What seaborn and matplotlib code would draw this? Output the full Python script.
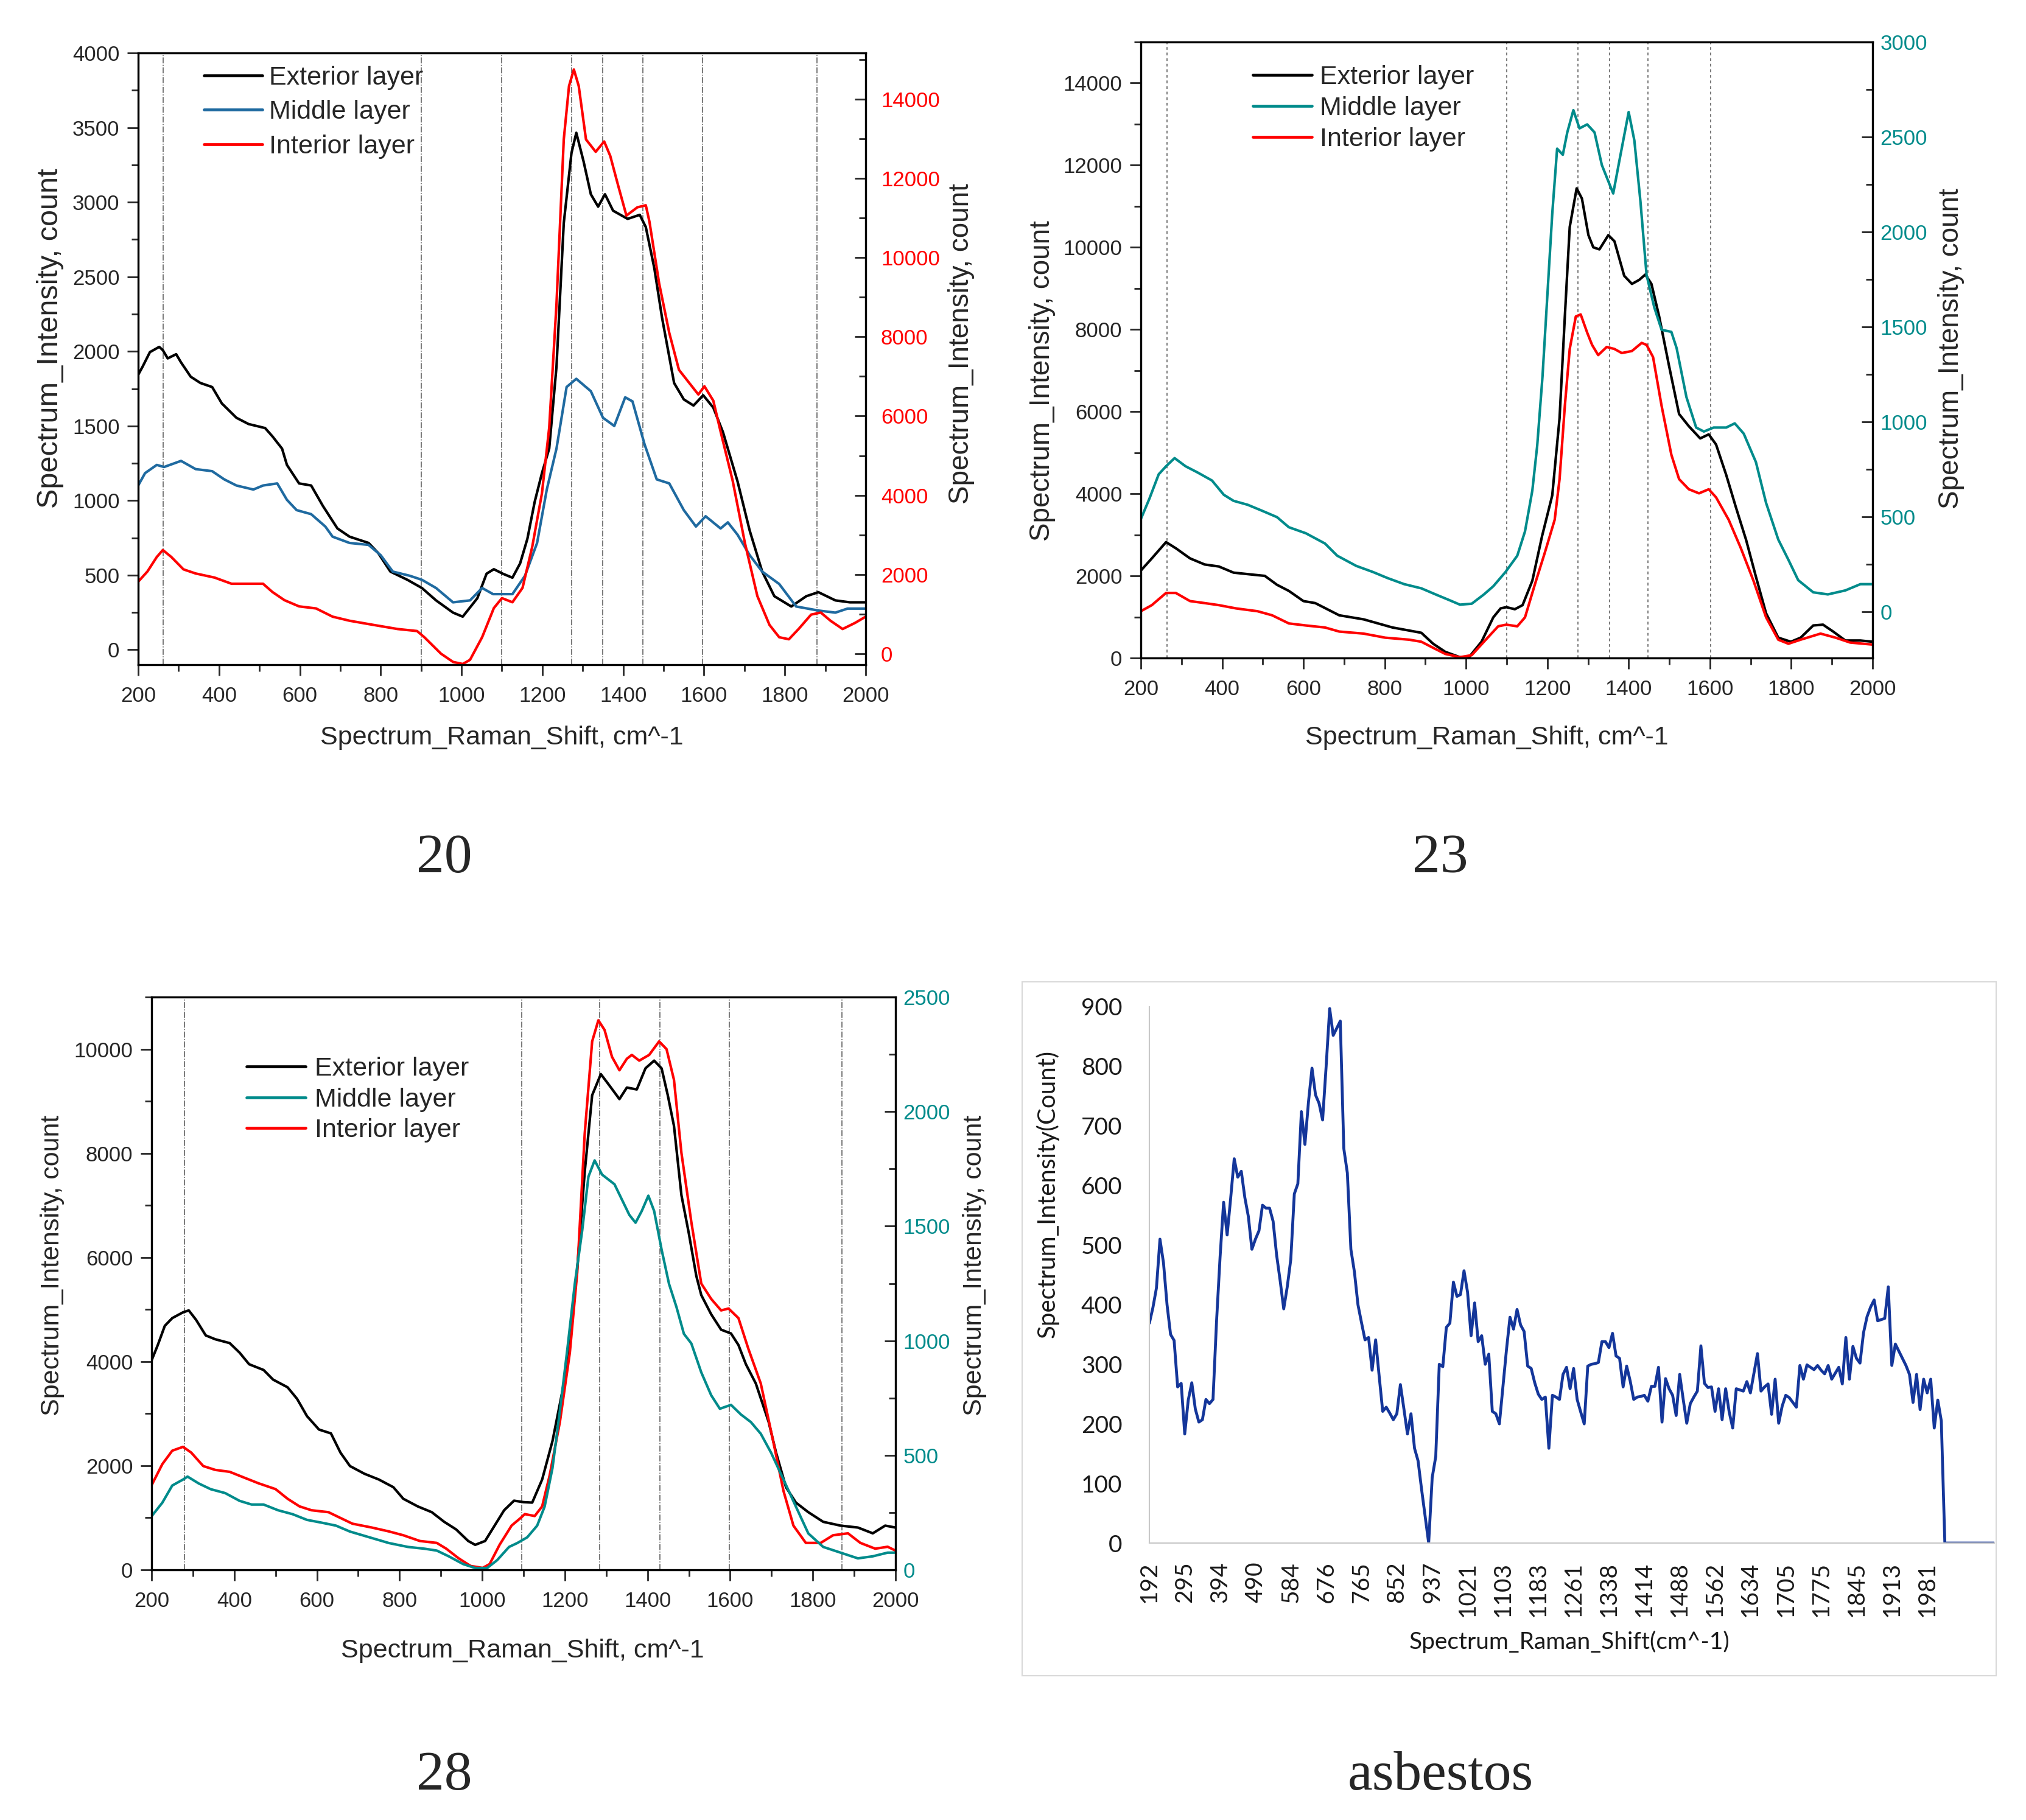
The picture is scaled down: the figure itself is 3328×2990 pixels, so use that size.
import numpy as np
import seaborn as sns
import matplotlib.pyplot as plt
from matplotlib.ticker import MultipleLocator
from matplotlib.patches import Rectangle
from matplotlib.lines import Line2D

# ---------------- panel 20 ----------------
p20_ext_x = [200, 211, 229, 252, 261, 273, 294, 306, 330, 354, 383, 407, 443, 473, 514, 532, 556, 568, 598, 628,
             657, 693, 723, 770, 794, 824, 866, 902, 937, 979, 1003, 1039, 1062, 1080, 1102, 1126, 1145, 1163, 1181, 1199,
             1217, 1235, 1253, 1272, 1284, 1302, 1320, 1338, 1355, 1375, 1411, 1441, 1456, 1477, 1496, 1526, 1550, 1574, 1598, 1623,
             1647, 1683, 1713, 1744, 1774, 1816, 1853, 1883, 1925, 1961, 2000]
p20_ext_y = [1843, 1898, 1995, 2030, 2008, 1953, 1981, 1926, 1830, 1788, 1761, 1651, 1555, 1513, 1486, 1431, 1348, 1239, 1115, 1101,
             964, 813, 758, 716, 648, 524, 469, 414, 331, 249, 222, 345, 510, 540, 510, 483, 579, 744, 991, 1184,
             1349, 1898, 2860, 3328, 3465, 3273, 3053, 2970, 3053, 2943, 2888, 2915, 2833, 2558, 2228, 1788, 1678, 1637, 1706, 1623,
             1458, 1128, 799, 524, 359, 290, 359, 386, 331, 318, 318]
p20_mid_x = [200, 217, 246, 264, 306, 342, 383, 413, 443, 485, 509, 544, 568, 592, 628, 663, 681, 723, 770, 800,
             830, 872, 902, 937, 979, 1021, 1051, 1078, 1126, 1157, 1187, 1211, 1235, 1260, 1284, 1320, 1350, 1378, 1405, 1423,
             1453, 1483, 1514, 1550, 1580, 1604, 1641, 1659, 1683, 1713, 1744, 1786, 1828, 1883, 1925, 1955, 2000]
p20_mid_y = [1101, 1184, 1239, 1225, 1266, 1211, 1197, 1142, 1101, 1074, 1101, 1115, 1005, 936, 909, 826, 758, 716, 703, 634,
             524, 496, 469, 414, 318, 331, 414, 373, 373, 496, 716, 1074, 1349, 1761, 1816, 1733, 1555, 1500, 1692, 1665,
             1376, 1142, 1115, 936, 826, 895, 813, 854, 771, 634, 524, 441, 290, 263, 249, 276, 276]
p20_int_x = [200, 223, 246, 261, 282, 312, 342, 389, 431, 473, 509, 532, 562, 598, 640, 681, 723, 782, 842, 890,
             908, 949, 979, 1003, 1021, 1051, 1080, 1100, 1126, 1151, 1175, 1199, 1217, 1235, 1253, 1266, 1278, 1290, 1308, 1332,
             1353, 1368, 1387, 1408, 1435, 1456, 1465, 1489, 1514, 1538, 1562, 1586, 1601, 1623, 1641, 1671, 1701, 1732, 1762, 1786,
             1810, 1834, 1865, 1889, 1913, 1943, 1974, 2000]
p20_int_y = [1816, 2076, 2440, 2616, 2440, 2128, 2024, 1920, 1764, 1764, 1764, 1557, 1349, 1193, 1141, 933, 830, 725, 621, 570,
             414, 0, -210, -262, -158, 414, 1150, 1401, 1297, 1661, 2699, 4050, 5712, 8830, 12986, 14336, 14752, 14336, 12986, 12674,
             12934, 12570, 11843, 11063, 11271, 11323, 10908, 9349, 8102, 7167, 6855, 6544, 6752, 6388, 5609, 4362, 2803, 1453, 725, 414,
             362, 621, 985, 1037, 830, 621, 777, 933]
p20_marks = [262, 900, 1100, 1272, 1350, 1448, 1597, 1880]

# ---------------- panel 23 ----------------
p23_ext_x = [200, 227, 262, 286, 321, 357, 392, 428, 475, 505, 535, 564, 600, 629, 688, 748, 819, 890, 919, 949,
             985, 1008, 1038, 1067, 1085, 1099, 1120, 1139, 1163, 1187, 1212, 1230, 1243, 1255, 1272, 1285, 1301, 1313, 1328, 1350,
             1365, 1389, 1408, 1426, 1441, 1456, 1475, 1499, 1524, 1548, 1576, 1597, 1615, 1640, 1664, 1689, 1713, 1738, 1768, 1799,
             1823, 1854, 1878, 1903, 1933, 1970, 2000]
p23_ext_y = [2129, 2426, 2822, 2673, 2426, 2277, 2228, 2079, 2030, 2000, 1782, 1634, 1386, 1337, 1040, 941, 743, 614, 347, 149,
             20, 30, 396, 990, 1208, 1238, 1188, 1287, 1881, 2970, 3960, 5842, 8317, 10495, 11436, 11188, 10297, 10000, 9950, 10297,
             10148, 9307, 9109, 9208, 9337, 9109, 8317, 7129, 5941, 5644, 5347, 5446, 5198, 4456, 3663, 2871, 1980, 1089, 495, 396,
             495, 792, 812, 644, 426, 426, 396]
p23_int_x = [200, 227, 262, 286, 321, 357, 392, 434, 487, 523, 564, 606, 653, 688, 748, 801, 860, 890, 919, 949,
             985, 1014, 1044, 1079, 1099, 1126, 1145, 1169, 1194, 1218, 1230, 1243, 1255, 1270, 1282, 1298, 1310, 1325, 1346, 1365,
             1383, 1408, 1432, 1444, 1460, 1481, 1505, 1524, 1548, 1573, 1597, 1615, 1646, 1676, 1707, 1738, 1768, 1793, 1823, 1872,
             1909, 1945, 2000]
p23_int_y = [1139, 1287, 1584, 1584, 1386, 1337, 1287, 1208, 1139, 1040, 842, 792, 743, 644, 594, 495, 446, 396, 248, 99,
             20, 69, 396, 772, 812, 772, 990, 1782, 2574, 3366, 4356, 6139, 7525, 8317, 8366, 7921, 7624, 7376, 7574, 7525,
             7426, 7475, 7673, 7624, 7327, 6139, 4950, 4356, 4109, 4010, 4109, 3911, 3366, 2673, 1881, 990, 446, 347, 446, 594,
             495, 376, 327]
p23_mid_x = [200, 221, 244, 262, 283, 310, 339, 375, 404, 428, 463, 499, 535, 564, 606, 653, 683, 730, 771, 807,
             848, 890, 925, 961, 985, 1014, 1044, 1067, 1097, 1126, 1145, 1163, 1175, 1188, 1200, 1212, 1224, 1238, 1249, 1264,
             1279, 1298, 1316, 1334, 1350, 1362, 1377, 1400, 1414, 1429, 1444, 1463, 1481, 1505, 1518, 1542, 1566, 1585, 1609, 1640,
             1661, 1683, 1713, 1738, 1768, 1793, 1817, 1854, 1890, 1933, 1970, 2000]
p23_mid_y = [487, 594, 723, 765, 808, 765, 733, 690, 615, 583, 562, 530, 497, 444, 412, 358, 294, 240, 208, 176,
             144, 122, 90, 58, 36, 41, 90, 133, 208, 294, 422, 637, 873, 1237, 1666, 2095, 2438, 2406, 2524, 2641,
             2545, 2566, 2524, 2352, 2266, 2202, 2373, 2631, 2481, 2159, 1773, 1602, 1484, 1473, 1387, 1130, 969, 948, 969, 969,
             991, 937, 787, 572, 379, 272, 165, 101, 90, 111, 144, 144]
p23_marks = [265, 1100, 1275, 1353, 1447, 1601]

# ---------------- panel 28 ----------------
p28_ext_x = [200, 215, 232, 250, 276, 290, 308, 331, 354, 389, 413, 436, 471, 494, 529, 552, 576, 605, 634, 657,
             680, 715, 750, 785, 809, 844, 878, 908, 937, 966, 983, 1007, 1030, 1053, 1077, 1100, 1121, 1145, 1170, 1194,
             1212, 1230, 1248, 1266, 1287, 1308, 1332, 1350, 1374, 1395, 1416, 1434, 1449, 1464, 1482, 1500, 1518, 1530, 1554, 1578,
             1602, 1620, 1638, 1662, 1693, 1711, 1735, 1759, 1789, 1825, 1867, 1909, 1945, 1975, 2000]
p28_ext_y = [4022, 4317, 4686, 4834, 4945, 4982, 4797, 4502, 4428, 4354, 4170, 3948, 3838, 3653, 3506, 3284, 2952, 2694, 2620, 2251,
             1993, 1845, 1734, 1587, 1365, 1218, 1107, 922, 775, 554, 480, 554, 849, 1144, 1328, 1300, 1291, 1734, 2472, 3432,
             4317, 5793, 7638, 9114, 9520, 9299, 9040, 9262, 9225, 9631, 9779, 9631, 9114, 8524, 7196, 6458, 5645, 5277, 4908, 4612,
             4539, 4317, 3948, 3579, 2841, 2251, 1587, 1291, 1107, 922, 849, 812, 701, 849, 812]
p28_int_x = [200, 226, 250, 276, 296, 325, 354, 389, 424, 459, 500, 529, 558, 587, 628, 657, 686, 733, 774, 809,
             849, 890, 913, 943, 972, 1001, 1018, 1042, 1071, 1093, 1103, 1127, 1145, 1163, 1188, 1212, 1230, 1248, 1266, 1281,
             1296, 1314, 1332, 1350, 1362, 1380, 1404, 1428, 1446, 1464, 1482, 1506, 1530, 1554, 1578, 1596, 1620, 1644, 1674, 1704,
             1729, 1753, 1783, 1819, 1849, 1885, 1915, 1951, 1981, 2000]
p28_int_y = [1624, 2030, 2288, 2362, 2251, 1993, 1919, 1882, 1771, 1661, 1550, 1365, 1218, 1144, 1107, 996, 886, 812, 738, 664,
             554, 517, 406, 221, 74, 37, 111, 480, 849, 996, 1070, 1033, 1218, 1808, 2841, 4170, 5719, 8376, 10148, 10553,
             10369, 9852, 9594, 9815, 9889, 9779, 9889, 10148, 10000, 9409, 8007, 6679, 5498, 5203, 4982, 5018, 4834, 4244, 3579, 2472,
             1513, 849, 517, 517, 664, 701, 517, 406, 443, 369]
p28_mid_x = [200, 226, 250, 276, 287, 314, 343, 378, 413, 442, 471, 506, 541, 576, 611, 646, 680, 727, 774, 820,
             861, 890, 919, 954, 983, 1012, 1036, 1065, 1085, 1109, 1133, 1151, 1170, 1188, 1206, 1224, 1242, 1257, 1272, 1290,
             1320, 1338, 1356, 1371, 1386, 1402, 1416, 1434, 1452, 1470, 1488, 1506, 1530, 1554, 1575, 1602, 1626, 1650, 1674, 1699,
             1729, 1759, 1789, 1825, 1867, 1909, 1945, 1981, 2000]
p28_mid_y = [234, 293, 368, 394, 407, 377, 352, 335, 301, 285, 285, 260, 243, 218, 206, 193, 167, 142, 117, 100,
             92, 84, 59, 25, 8, 8, 42, 100, 117, 142, 193, 276, 444, 695, 963, 1248, 1482, 1716, 1787, 1725,
             1683, 1616, 1549, 1515, 1566, 1633, 1566, 1398, 1248, 1147, 1030, 988, 862, 762, 703, 720, 678, 645, 594, 511,
             394, 276, 159, 100, 75, 50, 59, 75, 75]
p28_marks = [279, 1096, 1284, 1430, 1598, 1870]

# ---------------- asbestos (category axis) ----------------
asb_vals = [369, 395, 428, 510, 470, 400, 350, 340, 262, 268,
            183, 240, 269, 225, 203, 207, 241, 234, 241, 372,
            480, 572, 517, 579, 645, 614, 624, 580, 548, 493,
            510, 524, 567, 562, 562, 540, 483, 440, 393, 430,
            476, 586, 603, 724, 669, 740, 797, 752, 738, 710,
            800, 897, 852, 864, 876, 662, 621, 493, 455, 400,
            370, 341, 345, 290, 341, 280, 221, 228, 218, 207,
            217, 266, 225, 183, 217, 159, 138, 90, 45, 0,
            110, 145, 300, 296, 362, 369, 438, 414, 417, 457,
            421, 348, 403, 338, 348, 300, 317, 221, 217, 200,
            262, 324, 379, 359, 392, 366, 355, 297, 293, 269,
            250, 241, 245, 159, 248, 245, 241, 283, 295, 259,
            293, 241, 220, 200, 297, 300, 301, 303, 338, 338,
            328, 352, 314, 310, 262, 297, 272, 241, 245, 246,
            248, 238, 263, 263, 295, 203, 276, 259, 248, 214,
            283, 241, 201, 234, 245, 255, 331, 268, 261, 262,
            221, 259, 207, 259, 220, 193, 259, 257, 255, 271,
            252, 285, 318, 255, 262, 267, 216, 275, 201, 230,
            248, 244, 236, 228, 298, 275, 299, 295, 291, 298,
            290, 284, 298, 275, 285, 295, 267, 345, 275, 330,
            310, 302, 353, 380, 396, 408, 373, 375, 377, 430,
            298, 334, 322, 310, 298, 283, 236, 283, 224, 275,
            252, 275, 193, 240, 205, 0, 0, 0, 0, 0,
            0, 0, 0, 0, 0, 0, 0, 0, 0, 0]
asb_labels = ['192', '295', '394', '490', '584', '676', '765', '852', '937', '1021', '1103', '1183',
              '1261', '1338', '1414', '1488', '1562', '1634', '1705', '1775', '1845', '1913', '1981']

BLACK = '#000000'
RED = '#ff0000'
BLUE20 = '#1f6aa0'
TEAL = '#008b8b'

sns.set_style("ticks")
plt.rcParams['font.family'] = ['Liberation Sans', 'DejaVu Sans']

W, H = 3328, 2990
fig = plt.figure(figsize=(W / 100, H / 100), dpi=100)


def box(l, t, r, b):
    return [l / W, 1 - b / H, (r - l) / W, (b - t) / H]


def spectrum_panel(rect, series, marks, mark_ls, lims, rlims, lsteps, rsteps, rcolor,
                   xlab_pos, ylab_pos, rlab_pos, ylab_size, rlab_size, leg_anchor, leg_sp, leg_pad, rpad):
    ax = fig.add_axes(rect)
    ax2 = ax.twinx()
    handles = []
    for (xs, ys, col, lab, right) in series:
        target = ax2 if right else ax
        sns.lineplot(x=xs, y=ys, ax=target, color=col, lw=3.0, sort=False, estimator=None)
        handles.append(Line2D([], [], color=col, lw=3.4, label=lab))
    for m in marks:
        ax.axvline(m, color='#555555', lw=1.1, ls=mark_ls, zorder=0)
    ax.set_xlim(200, 2000)
    ax.set_ylim(*lims)
    ax2.set_ylim(*rlims)
    ax.xaxis.set_major_locator(MultipleLocator(200))
    ax.xaxis.set_minor_locator(MultipleLocator(100))
    ax.yaxis.set_major_locator(MultipleLocator(lsteps[0]))
    ax.yaxis.set_minor_locator(MultipleLocator(lsteps[1]))
    ax2.yaxis.set_major_locator(MultipleLocator(rsteps[0]))
    ax2.yaxis.set_minor_locator(MultipleLocator(rsteps[1]))
    ax.tick_params(which='major', direction='out', length=13, width=2, labelsize=25)
    ax.tick_params(which='minor', direction='out', length=8, width=2)
    ax.tick_params(axis='x', which='major', pad=12)
    ax.tick_params(axis='y', which='major', pad=9)
    ax2.tick_params(axis='y', which='major', direction='in', length=13, width=2,
                    labelsize=25, labelcolor=rcolor, pad=rpad)
    ax2.tick_params(axis='y', which='minor', direction='in', length=8, width=2)
    for a in (ax, ax2):
        for sp in a.spines.values():
            sp.set_linewidth(2.3)
            sp.set_color('black')
    ax.set_xlabel('Spectrum_Raman_Shift, cm^-1', fontsize=31)
    ax.xaxis.set_label_coords(*xlab_pos)
    ax.xaxis.label.set_verticalalignment('center')
    ax.set_ylabel('Spectrum_Intensity, count', fontsize=ylab_size)
    ax.yaxis.set_label_coords(*ylab_pos)
    ax.yaxis.label.set_verticalalignment('center')
    ax2.set_ylabel('Spectrum_Intensity, count', fontsize=rlab_size)
    ax2.yaxis.set_label_coords(*rlab_pos)
    ax2.yaxis.label.set_verticalalignment('center')
    ax2.legend(handles=handles, loc='upper left', bbox_to_anchor=leg_anchor, frameon=False,
               fontsize=31, borderpad=0, borderaxespad=0, handlelength=2.25,
               handletextpad=leg_pad, labelspacing=leg_sp)
    return ax, ax2


spectrum_panel(box(227, 87, 1422, 1092),
               [(p20_ext_x, p20_ext_y, BLACK, 'Exterior layer', False),
                (p20_mid_x, p20_mid_y, BLUE20, 'Middle layer', False),
                (p20_int_x, p20_int_y, RED, 'Interior layer', True)],
               p20_marks, '-.', (-100, 4000), (-280, 15170), (500, 250), (2000, 1000), RED,
               (0.5, -0.119), (-0.121, 0.534), (1.131, 0.525), 35, 33,
               (0.090, 0.979), 0.38, 0.25, 18)

spectrum_panel(box(1874, 69, 3076, 1081),
               [(p23_ext_x, p23_ext_y, BLACK, 'Exterior layer', False),
                (p23_mid_x, p23_mid_y, TEAL, 'Middle layer', True),
                (p23_int_x, p23_int_y, RED, 'Interior layer', False)],
               p23_marks, (0, (3, 3)), (0, 15000), (-245, 3000), (2000, 1000), (500, 250), TEAL,
               (0.473, -0.129), (-0.135, 0.450), (1.107, 0.502), 33, 33,
               (0.153, 0.962), 0.25, 0.3, 9)

spectrum_panel(box(249, 1638, 1471, 2579),
               [(p28_ext_x, p28_ext_y, BLACK, 'Exterior layer', False),
                (p28_mid_x, p28_mid_y, TEAL, 'Middle layer', True),
                (p28_int_x, p28_int_y, RED, 'Interior layer', False)],
               p28_marks, '-.', (0, 11000), (0, 2500), (2000, 1000), (500, 250), TEAL,
               (0.499, -0.141), (-0.133, 0.532), (1.106, 0.532), 31, 31,
               (0.128, 0.896), 0.25, 0.35, 9)

# asbestos panel (spreadsheet-style chart)
fig.add_artist(Rectangle((1679 / W, 1 - 2753 / H), 1600 / W, 1140 / H, transform=fig.transFigure,
                         fill=False, ec='#d9d9d9', lw=1.5))
ax4 = fig.add_axes(box(1888, 1654, 3276, 2535))
cats = np.arange(len(asb_vals))
sns.lineplot(x=cats, y=asb_vals, ax=ax4, color='#14369a', lw=3.4, estimator=None)
ax4.set_xlim(0, len(asb_vals) - 1)
ax4.set_ylim(0, 900)
ax4.set_yticks(range(0, 901, 100))
ax4.set_xticks(cats[::10][:len(asb_labels)])
ax4.set_xticklabels(asb_labels, rotation=90, family=['Lato', 'DejaVu Sans'])
for lab in ax4.get_yticklabels():
    lab.set_family(['Lato', 'DejaVu Sans'])
ax4.tick_params(axis='both', length=0, labelsize=28, colors='#1a1a1a')
ax4.tick_params(axis='y', pad=32)
ax4.tick_params(axis='x', pad=22)
ax4.spines['top'].set_visible(False)
ax4.spines['right'].set_visible(False)
ax4.spines['left'].set_color('#c8c8c8')
ax4.spines['bottom'].set_color('#c8c8c8')
ax4.spines['left'].set_linewidth(1.5)
ax4.spines['bottom'].set_linewidth(1.5)
ax4.set_xlabel('Spectrum_Raman_Shift(cm^-1)', fontsize=28, family=['Lato', 'DejaVu Sans'], color='#1a1a1a')
ax4.xaxis.set_label_coords(0.497, -0.184)
ax4.xaxis.label.set_verticalalignment('center')
ax4.set_ylabel('Spectrum_Intensity(Count)', fontsize=29, family=['Lato', 'DejaVu Sans'], color='#1a1a1a')
ax4.yaxis.set_label_coords((1720 - 1888) / 1388, (2535 - 1961) / 881)
ax4.yaxis.label.set_verticalalignment('center')

# panel captions
for txt, cx, cy in [('20', 730, 1411), ('23', 2366, 1411), ('28', 730, 2918), ('asbestos', 2366, 2918)]:
    fig.text(cx / W, 1 - cy / H, txt, ha='center', va='center',
             family=['Liberation Serif', 'DejaVu Serif'], fontsize=66)

fig.savefig('out.png', dpi=100)
